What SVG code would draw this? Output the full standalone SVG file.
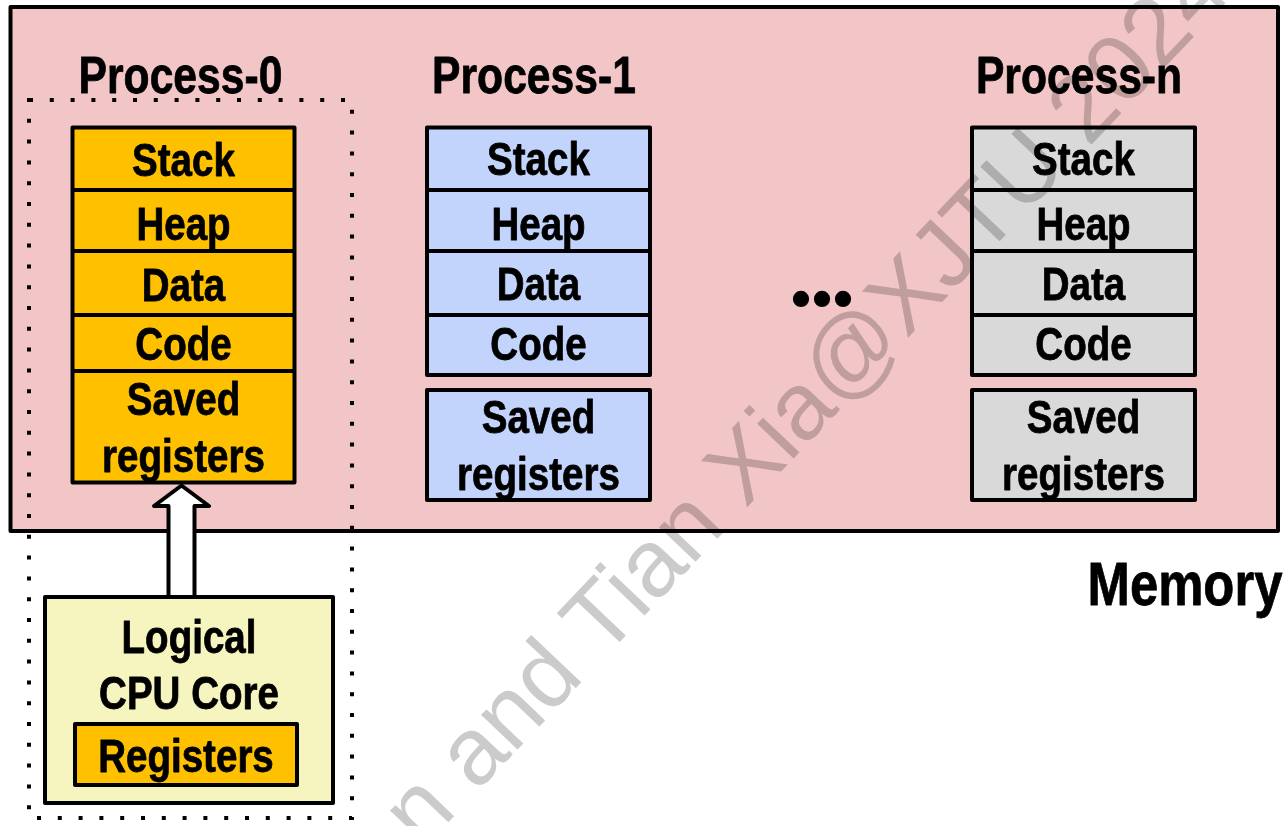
<svg xmlns="http://www.w3.org/2000/svg" width="1287" height="826" viewBox="0 0 1287 826">
  <style>
    .box { stroke: #000; stroke-width: 4; stroke-linejoin: round; }
    .div { stroke: #000; stroke-width: 4; }
    .mem { fill: #F2C6C7; }
    .p0 { fill: #FFC000; }
    .p1 { fill: #C2D4FB; }
    .pn { fill: #D9D9D9; }
    .cpu { fill: #F6F5C0; }
    .lbl { font-family: "Liberation Sans", Arial, sans-serif; font-weight: bold; text-anchor: middle; fill: #000; stroke: #000; stroke-width: 0.8px; stroke-linejoin: round; }
    .title { font-size: 52px; }
    .cell { font-size: 47px; }
    .big { font-size: 62px; }
    .dots { font-family: "Liberation Serif", "Times New Roman", serif; font-weight: bold; font-size: 100px; letter-spacing: -4px; text-anchor: middle; fill: #000; }
    .wm { font-family: "Liberation Sans", Arial, sans-serif; font-size: 95px; fill: #CBCBCB; mix-blend-mode: multiply; }
  </style>

  <!-- memory region -->
  <g id="memory">
    <rect class="box mem" x="10.5" y="7" width="1267.5" height="524"/>
    <text class="lbl big" transform="translate(1185,605) scale(0.82,1)">Memory</text>
  </g>

  <!-- boundary of the running context -->
  <g id="context">
    <rect x="29" y="100" width="323" height="718" fill="none" stroke="#000" stroke-width="4" stroke-dasharray="4 16.8"/>
  </g>

  <!-- process 0 -->
  <g id="process-0">
    <text class="lbl title" transform="translate(180.5,93) scale(0.82,1)">Process-0</text>
    <rect class="box p0" x="72.5" y="127.5" width="222" height="355"/>
    <line class="div" x1="72.5" y1="190" x2="294.5" y2="190"/>
    <line class="div" x1="72.5" y1="251" x2="294.5" y2="251"/>
    <line class="div" x1="72.5" y1="315" x2="294.5" y2="315"/>
    <line class="div" x1="72.5" y1="371" x2="294.5" y2="371"/>
    <text class="lbl cell" transform="translate(183.5,176) scale(0.82,1)">Stack</text>
    <text class="lbl cell" transform="translate(183.5,240) scale(0.82,1)">Heap</text>
    <text class="lbl cell" transform="translate(183.5,301) scale(0.82,1)">Data</text>
    <text class="lbl cell" transform="translate(183.5,360) scale(0.82,1)">Code</text>
    <text class="lbl cell" transform="translate(183.5,415) scale(0.82,1)">Saved</text>
    <text class="lbl cell" transform="translate(183.5,472) scale(0.82,1)">registers</text>
  </g>

  <!-- process 1 -->
  <g id="process-1">
    <text class="lbl title" transform="translate(534,93) scale(0.82,1)">Process-1</text>
    <rect class="box p1" x="427" y="127.5" width="223" height="247.5"/>
    <line class="div" x1="427" y1="190" x2="650" y2="190"/>
    <line class="div" x1="427" y1="251" x2="650" y2="251"/>
    <line class="div" x1="427" y1="315" x2="650" y2="315"/>
    <rect class="box p1" x="427" y="390" width="223" height="110"/>
    <text class="lbl cell" transform="translate(538.5,175) scale(0.82,1)">Stack</text>
    <text class="lbl cell" transform="translate(538.5,240) scale(0.82,1)">Heap</text>
    <text class="lbl cell" transform="translate(538.5,300) scale(0.82,1)">Data</text>
    <text class="lbl cell" transform="translate(538.5,360) scale(0.82,1)">Code</text>
    <text class="lbl cell" transform="translate(538.5,433) scale(0.82,1)">Saved</text>
    <text class="lbl cell" transform="translate(538.5,490) scale(0.82,1)">registers</text>
  </g>

  <!-- elided processes -->
  <g id="ellipsis">
    <text class="dots" x="820" y="306">...</text>
  </g>

  <!-- process n -->
  <g id="process-n">
    <text class="lbl title" transform="translate(1079,93) scale(0.82,1)">Process-n</text>
    <rect class="box pn" x="972" y="127.5" width="223" height="247.5"/>
    <line class="div" x1="972" y1="190" x2="1195" y2="190"/>
    <line class="div" x1="972" y1="251" x2="1195" y2="251"/>
    <line class="div" x1="972" y1="315" x2="1195" y2="315"/>
    <rect class="box pn" x="972" y="390" width="223" height="110"/>
    <text class="lbl cell" transform="translate(1083.5,175) scale(0.82,1)">Stack</text>
    <text class="lbl cell" transform="translate(1083.5,240) scale(0.82,1)">Heap</text>
    <text class="lbl cell" transform="translate(1083.5,300) scale(0.82,1)">Data</text>
    <text class="lbl cell" transform="translate(1083.5,360) scale(0.82,1)">Code</text>
    <text class="lbl cell" transform="translate(1083.5,433) scale(0.82,1)">Saved</text>
    <text class="lbl cell" transform="translate(1083.5,490) scale(0.82,1)">registers</text>
  </g>

  <!-- register save path: CPU core to process-0 -->
  <g id="connectors">
    <path class="box" fill="#fff" d="M168.5 600 V506 H154 L181.5 485.5 L209 506 H194.5 V600 Z"/>
  </g>

  <!-- logical CPU core -->
  <g id="cpu-core">
    <rect class="box cpu" x="45" y="597" width="288" height="206"/>
    <text class="lbl cell" transform="translate(189,653) scale(0.82,1)">Logical</text>
    <text class="lbl cell" transform="translate(189,709) scale(0.82,1)">CPU Core</text>
    <rect class="box p0" x="75" y="724" width="222" height="61"/>
    <text class="lbl cell" transform="translate(186,772) scale(0.82,1)">Registers</text>
  </g>

  <!-- watermark -->
  <g id="watermark">
    <text class="wm" transform="translate(422,850) rotate(-46.5)">n and Tian Xia@XJTU 2024</text>
  </g>
</svg>
